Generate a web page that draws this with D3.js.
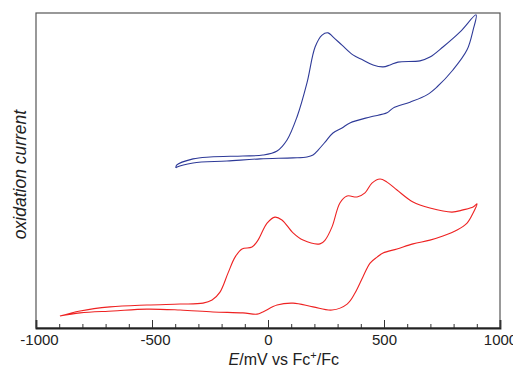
<!DOCTYPE html>
<html>
<head>
<meta charset="utf-8">
<script src="https://cdn.jsdelivr.net/npm/d3@7"></script>
<style>
  body { margin: 0; background: #fff; }
  svg { display: block; }
  text { font-family: "Liberation Sans", Arial, sans-serif; fill: #222; }
</style>
</head>
<body>
<div id="chart"></div>
<script>
// potential in mV vs Fc+/Fc, current in arbitrary units (0..100 across the frame)
var blueE = [-397, -394, -323, -250, -108, -22, 39, 82, 125, 168, 203, 233, 259, 280, 319, 366, 409, 453, 496, 526, 560, 655, 698, 754, 828, 897,
             884, 858, 797, 728, 685, 612, 539, 513, 440, 353, 319, 280, 246, 216, 194, 168, 108, -34, -177, -323, -392, -397];
var blueI = [50.8, 51.7, 53.7, 54.3, 54.6, 54.9, 56.2, 59.7, 67.0, 77.8, 89.2, 93.0, 93.7, 92.4, 89.8, 86.7, 85.1, 83.5, 82.9, 83.5, 84.4, 84.8, 86.0, 89.2, 94.0, 99.4,
             94.6, 88.3, 81.9, 76.5, 74.0, 71.7, 69.8, 68.3, 67.0, 65.1, 63.5, 61.9, 59.0, 56.5, 54.9, 54.3, 54.0, 53.7, 53.0, 52.4, 51.1, 50.8];

var redE = [-897, -810, -681, -522, -379, -280, -241, -207, -172, -142, -112, -69, -43, -4, 30, 60, 108, 151, 224, 246, 276, 310, 341, 384, 418, 448, 483, 513, 556, 625, 698, 793, 841, 884, 901,
            884, 858, 815, 754, 698, 625, 556, 496, 470, 440, 409, 375, 341, 276, 194, 108, 39, -22, -47, -108, -237, -379, -522, -668, -810, -897];
var redI = [3.8, 5.4, 6.7, 7.3, 7.6, 7.9, 8.9, 11.4, 17.5, 22.5, 25.1, 25.7, 27.9, 33.3, 35.2, 34.3, 30.2, 27.9, 26.7, 27.9, 32.1, 39.7, 41.9, 41.6, 42.9, 46.0, 47.3, 46.3, 43.8, 40.0, 38.1, 36.8, 37.5, 38.4, 39.4,
            36.5, 33.3, 31.1, 29.2, 27.9, 26.7, 25.1, 23.8, 22.5, 20.6, 16.2, 11.1, 7.6, 5.7, 6.7, 7.9, 7.3, 5.1, 4.4, 4.8, 5.1, 5.7, 6.0, 5.4, 4.8, 3.8];

var majorTicks = [-1000, -500, 0, 500, 1000];
var minorTicks = d3.range(-1000, 1001, 100);

var width = 513, height = 369;
var margin = {top: 13, right: 13, bottom: 41, left: 36};
var w = width - margin.left - margin.right,
    h = height - margin.top - margin.bottom;

var svg = d3.select('#chart').append('svg')
  .attr('width', width)
  .attr('height', height);

var vis = svg.append('g')
  .attr('transform', 'translate(' + margin.left + ',' + margin.top + ')');

var x = d3.scaleLinear().domain([-1000, 1000]).range([0, w]);
var y = d3.scaleLinear().domain([0, 100]).range([h, 0]);

// frame
vis.append('rect')
  .attr('width', w).attr('height', h)
  .attr('fill', 'none')
  .attr('stroke', '#555')
  .attr('stroke-width', 1.2);

// minor ticks (inside)
vis.append('g')
  .attr('transform', 'translate(0,' + h + ')')
  .call(d3.axisBottom(x).tickValues(minorTicks).tickSize(-4).tickFormat(''))
  .call(function(g) { g.select('.domain').remove(); });

// major ticks with labels (plain hyphen for negatives, as in the original)
var xAxis = vis.append('g')
  .attr('transform', 'translate(0,' + h + ')')
  .call(d3.axisBottom(x).tickValues(majorTicks).tickSize(-8).tickPadding(0)
    .tickFormat(function(d) { return String(d); }));
xAxis.select('.domain').attr('stroke', '#222').attr('stroke-width', 1.8);
xAxis.selectAll('.tick text')
  .attr('y', 17)
  .attr('dy', 0)
  .attr('dx', function(d) { return d < 0 ? 3 : 0; })
  .attr('font-size', 15)
  .attr('font-family', '"Liberation Sans", Arial, sans-serif')
  .attr('fill', '#222');
vis.selectAll('.tick line').attr('stroke', '#333');

// x axis title
var title = vis.append('text')
  .attr('x', x(-170))
  .attr('y', h + 37)
  .attr('font-size', 16);
title.append('tspan').attr('font-style', 'italic').text('E');
title.append('tspan').text('/mV vs Fc');
title.append('tspan').attr('font-size', 11).attr('dy', -6).text('+');
title.append('tspan').attr('dy', 6).text('/Fc');

// y axis title
vis.append('text')
  .attr('transform', 'translate(' + (-10) + ',' + (h / 2 + 4) + ') rotate(-90)')
  .attr('text-anchor', 'middle')
  .attr('font-size', 17.5)
  .attr('font-style', 'italic')
  .text('oxidation current');

var line = d3.line()
  .x(function(d) { return x(d[0]); })
  .y(function(d) { return y(d[1]); })
  .curve(d3.curveCatmullRom.alpha(0.5));

vis.append('path')
  .datum(d3.zip(blueE, blueI))
  .attr('d', line)
  .attr('fill', 'none')
  .attr('stroke', '#2e3a98')
  .attr('stroke-width', 1.1);

vis.append('path')
  .datum(d3.zip(redE, redI))
  .attr('d', line)
  .attr('fill', 'none')
  .attr('stroke', '#ee2222')
  .attr('stroke-width', 1.1);
</script>
</body>
</html>
